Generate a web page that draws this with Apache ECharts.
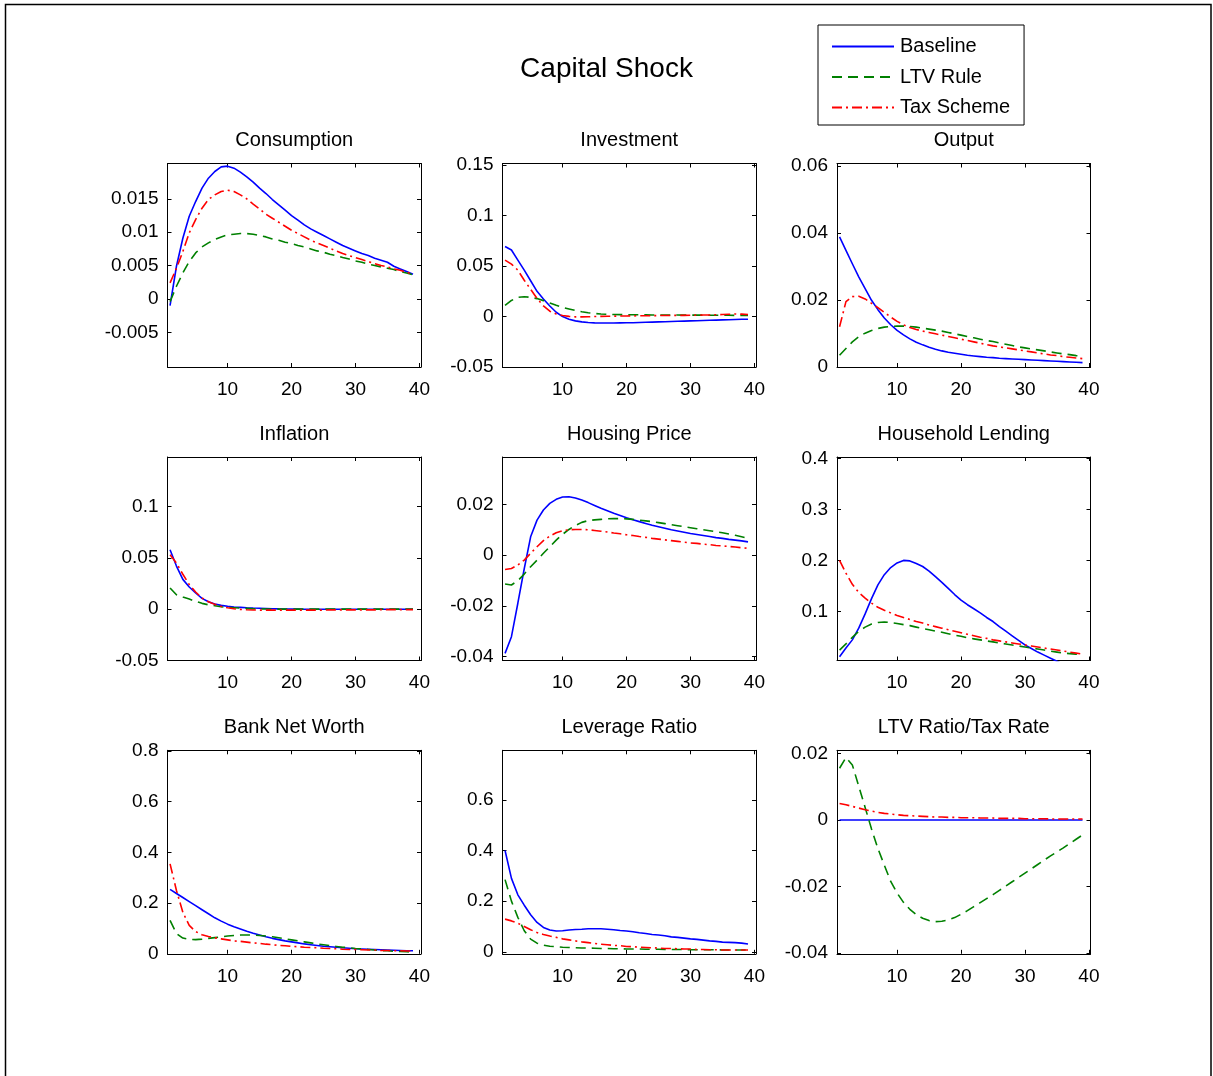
<!DOCTYPE html>
<html>
<head>
<meta charset="utf-8">
<title>Capital Shock</title>
<script src="https://cdn.jsdelivr.net/npm/echarts@6/dist/echarts.min.js"></script>
<style>
  html, body { margin: 0; padding: 0; background: #ffffff; }
  #chart { width: 1213px; height: 1076px; }
</style>
</head>
<body>
<div id="chart"></div>
<script>
// Impulse responses to a capital shock, periods 1..39
const periods = [1, 2, 3, 4, 5, 6, 7, 8, 9, 10, 11, 12, 13, 14, 15, 16, 17, 18, 19, 20,
  21, 22, 23, 24, 25, 26, 27, 28, 29, 30, 31, 32, 33, 34, 35, 36, 37, 38, 39];
const xTickLabels = [10, 20, 30, 40];
const scenarioNames = ['Baseline', 'LTV Rule', 'Tax Scheme'];
const panelTitles = ['Consumption', 'Investment', 'Output', 'Inflation', 'Housing Price',
  'Household Lending', 'Bank Net Worth', 'Leverage Ratio', 'LTV Ratio/Tax Rate'];

const consumptionBaseline = [-0.0010, 0.0049, 0.0091, 0.0124, 0.0146, 0.0166, 0.0181, 0.0191, 0.0198, 0.0199,
  0.0196, 0.0190, 0.0183, 0.0175, 0.0166, 0.0158, 0.0149, 0.0141, 0.0133, 0.0125,
  0.0118, 0.0111, 0.0105, 0.0100, 0.0095, 0.0090, 0.0085, 0.0080, 0.0076, 0.0072,
  0.0068, 0.0065, 0.0061, 0.0058, 0.0055, 0.0049, 0.0045, 0.0041, 0.0037];
const consumptionLtv = [-0.0004, 0.0019, 0.0039, 0.0056, 0.0069, 0.0078, 0.0084, 0.0089, 0.0093, 0.0096,
  0.0097, 0.0098, 0.0098, 0.0097, 0.0095, 0.0093, 0.0090, 0.0088, 0.0085, 0.0083,
  0.0080, 0.0078, 0.0075, 0.0072, 0.0070, 0.0067, 0.0065, 0.0062, 0.0060, 0.0057,
  0.0055, 0.0052, 0.0050, 0.0048, 0.0046, 0.0044, 0.0041, 0.0039, 0.0036];
const consumptionTax = [0.0024, 0.0046, 0.0071, 0.0099, 0.0119, 0.0136, 0.0149, 0.0156, 0.0161, 0.0163,
  0.0161, 0.0156, 0.0150, 0.0142, 0.0135, 0.0127, 0.0121, 0.0115, 0.0109, 0.0103,
  0.0098, 0.0093, 0.0088, 0.0084, 0.0080, 0.0076, 0.0072, 0.0068, 0.0065, 0.0062,
  0.0059, 0.0056, 0.0053, 0.0050, 0.0048, 0.0045, 0.0043, 0.0040, 0.0037];

const investmentBaseline = [0.0695, 0.0660, 0.0560, 0.0460, 0.0355, 0.0250, 0.0174, 0.0105, 0.0043, 0.0000,
  -0.0026, -0.0043, -0.0053, -0.0059, -0.0063, -0.0064, -0.0064, -0.0064, -0.0063, -0.0062,
  -0.0061, -0.0059, -0.0057, -0.0055, -0.0053, -0.0051, -0.0049, -0.0047, -0.0045, -0.0043,
  -0.0041, -0.0039, -0.0037, -0.0035, -0.0033, -0.0031, -0.0029, -0.0027, -0.0026];
const investmentLtv = [0.0110, 0.0160, 0.0190, 0.0197, 0.0190, 0.0178, 0.0158, 0.0135, 0.0112, 0.0090,
  0.0075, 0.0060, 0.0048, 0.0038, 0.0030, 0.0025, 0.0022, 0.0020, 0.0019, 0.0018,
  0.0018, 0.0017, 0.0017, 0.0016, 0.0016, 0.0015, 0.0015, 0.0015, 0.0014, 0.0014,
  0.0014, 0.0014, 0.0013, 0.0013, 0.0013, 0.0013, 0.0012, 0.0012, 0.0012];
const investmentTax = [0.0560, 0.0520, 0.0460, 0.0360, 0.0270, 0.0180, 0.0105, 0.0053, 0.0025, 0.0010,
  0.0002, -0.0003, -0.0003, -0.0002, 0.0000, 0.0002, 0.0003, 0.0004, 0.0005, 0.0006,
  0.0007, 0.0008, 0.0008, 0.0009, 0.0010, 0.0010, 0.0011, 0.0012, 0.0012, 0.0013,
  0.0014, 0.0015, 0.0016, 0.0018, 0.0020, 0.0023, 0.0025, 0.0024, 0.0021];

const outputBaseline = [0.0388, 0.0348, 0.0308, 0.0269, 0.0234, 0.0199, 0.0171, 0.0146, 0.0126, 0.0109,
  0.0096, 0.0084, 0.0074, 0.0066, 0.0059, 0.0053, 0.0048, 0.0044, 0.0041, 0.0038,
  0.0035, 0.0033, 0.0031, 0.0029, 0.0028, 0.0026, 0.0025, 0.0024, 0.0023, 0.0022,
  0.0021, 0.0020, 0.0019, 0.0018, 0.0017, 0.0016, 0.0015, 0.0014, 0.0013];
const outputLtv = [0.0035, 0.0055, 0.0075, 0.0090, 0.0101, 0.0109, 0.0115, 0.0119, 0.0121, 0.0122,
  0.0122, 0.0121, 0.0119, 0.0116, 0.0113, 0.0110, 0.0107, 0.0103, 0.0099, 0.0095,
  0.0091, 0.0087, 0.0083, 0.0079, 0.0076, 0.0072, 0.0068, 0.0064, 0.0060, 0.0057,
  0.0054, 0.0051, 0.0048, 0.0045, 0.0042, 0.0039, 0.0037, 0.0034, 0.0032];
const outputTax = [0.0120, 0.0195, 0.0210, 0.0211, 0.0203, 0.0190, 0.0177, 0.0163, 0.0149, 0.0136,
  0.0126, 0.0118, 0.0112, 0.0107, 0.0103, 0.0099, 0.0095, 0.0091, 0.0087, 0.0083,
  0.0079, 0.0075, 0.0071, 0.0067, 0.0063, 0.0060, 0.0057, 0.0054, 0.0051, 0.0048,
  0.0045, 0.0042, 0.0039, 0.0036, 0.0034, 0.0031, 0.0029, 0.0027, 0.0025];

const inflationBaseline = [0.0580, 0.0420, 0.0290, 0.0216, 0.0157, 0.0105, 0.0072, 0.0050, 0.0036, 0.0027,
  0.0021, 0.0017, 0.0013, 0.0010, 0.0008, 0.0006, 0.0004, 0.0002, 0.0001, 0.0000,
  0.0000, -0.0001, -0.0002, -0.0002, -0.0002, -0.0002, -0.0002, -0.0002, -0.0002, -0.0002,
  -0.0002, -0.0002, -0.0002, -0.0002, -0.0002, -0.0002, -0.0002, -0.0002, -0.0002];
const inflationLtv = [0.0206, 0.0140, 0.0118, 0.0098, 0.0075, 0.0056, 0.0042, 0.0033, 0.0023, 0.0016,
  0.0013, 0.0010, 0.0007, 0.0004, 0.0002, 0.0001, 0.0000, 0.0000, 0.0000, 0.0000,
  0.0000, 0.0000, 0.0000, 0.0000, 0.0000, 0.0000, 0.0000, 0.0000, 0.0000, 0.0000,
  0.0000, 0.0000, 0.0000, 0.0000, 0.0000, 0.0000, 0.0000, 0.0000, 0.0000];
const inflationTax = [0.0530, 0.0450, 0.0340, 0.0240, 0.0167, 0.0108, 0.0072, 0.0046, 0.0026, 0.0013,
  0.0003, -0.0003, -0.0007, -0.0009, -0.0010, -0.0010, -0.0010, -0.0010, -0.0010, -0.0010,
  -0.0010, -0.0010, -0.0010, -0.0010, -0.0010, -0.0008, -0.0008, -0.0008, -0.0008, -0.0008,
  -0.0008, -0.0008, -0.0008, -0.0005, -0.0005, -0.0005, -0.0005, -0.0005, -0.0005];

const housingBaseline = [-0.0388, -0.0322, -0.0190, -0.0054, 0.0072, 0.0138, 0.0178, 0.0204, 0.0220, 0.0229,
  0.0230, 0.0225, 0.0217, 0.0207, 0.0196, 0.0185, 0.0175, 0.0165, 0.0156, 0.0147,
  0.0139, 0.0132, 0.0125, 0.0118, 0.0112, 0.0106, 0.0100, 0.0095, 0.0090, 0.0085,
  0.0081, 0.0077, 0.0073, 0.0069, 0.0066, 0.0062, 0.0059, 0.0056, 0.0052];
const housingLtv = [-0.0114, -0.0118, -0.0101, -0.0075, -0.0046, -0.0020, 0.0007, 0.0033, 0.0059, 0.0082,
  0.0101, 0.0117, 0.0129, 0.0136, 0.0139, 0.0141, 0.0143, 0.0144, 0.0144, 0.0143,
  0.0141, 0.0138, 0.0135, 0.0132, 0.0128, 0.0124, 0.0120, 0.0116, 0.0112, 0.0108,
  0.0104, 0.0100, 0.0096, 0.0092, 0.0088, 0.0083, 0.0078, 0.0072, 0.0066];
const housingTax = [-0.0057, -0.0053, -0.0039, -0.0020, 0.0007, 0.0033, 0.0057, 0.0075, 0.0088, 0.0096,
  0.0100, 0.0101, 0.0101, 0.0100, 0.0097, 0.0094, 0.0091, 0.0087, 0.0084, 0.0080,
  0.0077, 0.0073, 0.0070, 0.0066, 0.0063, 0.0060, 0.0057, 0.0054, 0.0051, 0.0048,
  0.0046, 0.0043, 0.0041, 0.0038, 0.0036, 0.0034, 0.0032, 0.0029, 0.0027];

const lendingBaseline = [0.011, 0.028, 0.044, 0.067, 0.095, 0.125, 0.152, 0.172, 0.186, 0.195,
  0.200, 0.199, 0.194, 0.188, 0.179, 0.168, 0.157, 0.145, 0.133, 0.122,
  0.113, 0.105, 0.097, 0.088, 0.080, 0.070, 0.061, 0.052, 0.043, 0.034,
  0.027, 0.020, 0.014, 0.008, 0.002, -0.004, -0.010, -0.016, -0.022];
const lendingLtv = [0.024, 0.036, 0.049, 0.061, 0.069, 0.075, 0.078, 0.079, 0.078, 0.076,
  0.074, 0.072, 0.069, 0.066, 0.064, 0.061, 0.059, 0.056, 0.053, 0.051,
  0.048, 0.046, 0.044, 0.042, 0.040, 0.038, 0.036, 0.034, 0.032, 0.030,
  0.028, 0.026, 0.024, 0.022, 0.020, 0.018, 0.017, 0.016, 0.0145];
const lendingTax = [0.200, 0.175, 0.153, 0.137, 0.126, 0.116, 0.108, 0.102, 0.097, 0.092,
  0.088, 0.084, 0.080, 0.077, 0.073, 0.070, 0.067, 0.064, 0.061, 0.058,
  0.055, 0.052, 0.049, 0.047, 0.044, 0.042, 0.040, 0.038, 0.036, 0.034,
  0.032, 0.030, 0.028, 0.026, 0.024, 0.022, 0.020, 0.018, 0.016];

const netWorthBaseline = [0.254, 0.238, 0.222, 0.206, 0.190, 0.174, 0.158, 0.142, 0.129, 0.117,
  0.107, 0.098, 0.089, 0.081, 0.074, 0.067, 0.061, 0.056, 0.051, 0.047,
  0.043, 0.039, 0.036, 0.033, 0.030, 0.028, 0.026, 0.024, 0.022, 0.020,
  0.019, 0.018, 0.017, 0.016, 0.015, 0.014, 0.013, 0.012, 0.012];
const netWorthLtv = [0.132, 0.080, 0.062, 0.057, 0.056, 0.058, 0.061, 0.064, 0.067, 0.070,
  0.072, 0.074, 0.074, 0.074, 0.072, 0.070, 0.067, 0.063, 0.059, 0.055,
  0.051, 0.047, 0.043, 0.039, 0.036, 0.032, 0.029, 0.026, 0.024, 0.021,
  0.019, 0.017, 0.015, 0.013, 0.012, 0.010, 0.009, 0.008, 0.006];
const netWorthTax = [0.355, 0.250, 0.164, 0.112, 0.088, 0.075, 0.068, 0.063, 0.059, 0.055,
  0.051, 0.049, 0.046, 0.043, 0.041, 0.038, 0.036, 0.033, 0.032, 0.029,
  0.028, 0.026, 0.025, 0.024, 0.022, 0.021, 0.020, 0.018, 0.017, 0.017,
  0.016, 0.015, 0.015, 0.013, 0.013, 0.012, 0.012, 0.011, 0.011];

const leverageBaseline = [0.400, 0.290, 0.225, 0.184, 0.146, 0.116, 0.096, 0.086, 0.082, 0.083,
  0.086, 0.088, 0.089, 0.091, 0.091, 0.091, 0.089, 0.087, 0.084, 0.082,
  0.079, 0.075, 0.072, 0.068, 0.066, 0.063, 0.059, 0.057, 0.054, 0.051,
  0.049, 0.046, 0.043, 0.041, 0.038, 0.037, 0.036, 0.034, 0.031];
const leverageLtv = [0.285, 0.200, 0.136, 0.083, 0.050, 0.034, 0.026, 0.022, 0.020, 0.018,
  0.017, 0.016, 0.015, 0.0145, 0.014, 0.013, 0.013, 0.012, 0.012, 0.011,
  0.011, 0.011, 0.010, 0.010, 0.010, 0.009, 0.009, 0.009, 0.009, 0.008,
  0.008, 0.008, 0.008, 0.008, 0.007, 0.007, 0.007, 0.007, 0.007];
const leverageTax = [0.129, 0.122, 0.113, 0.100, 0.087, 0.076, 0.068, 0.062, 0.057, 0.051,
  0.047, 0.043, 0.039, 0.036, 0.033, 0.030, 0.028, 0.025, 0.024, 0.021,
  0.020, 0.018, 0.017, 0.016, 0.0145, 0.013, 0.013, 0.012, 0.011, 0.011,
  0.009, 0.009, 0.008, 0.008, 0.007, 0.007, 0.007, 0.007, 0.007];

const policyBaseline = [0, 0, 0, 0, 0, 0, 0, 0, 0, 0,
  0, 0, 0, 0, 0, 0, 0, 0, 0, 0,
  0, 0, 0, 0, 0, 0, 0, 0, 0, 0,
  0, 0, 0, 0, 0, 0, 0, 0, 0];
const policyLtv = [0.0156, 0.0188, 0.0166, 0.0102, 0.0038, -0.0027, -0.0086, -0.0136, -0.0185, -0.0220,
  -0.0248, -0.0269, -0.0285, -0.0296, -0.0303, -0.0306, -0.0305, -0.0301, -0.0294, -0.0284,
  -0.0273, -0.0261, -0.0249, -0.0237, -0.0225, -0.0212, -0.0199, -0.0186, -0.0173, -0.0160,
  -0.0147, -0.0134, -0.0121, -0.0108, -0.0096, -0.0084, -0.0071, -0.0058, -0.0045];
const policyTax = [0.0050, 0.0046, 0.0041, 0.0036, 0.0031, 0.0027, 0.0023, 0.0020, 0.0018, 0.0016,
  0.0014, 0.0013, 0.0012, 0.0011, 0.0010, 0.0009, 0.0009, 0.0008, 0.0008, 0.0007,
  0.0007, 0.0007, 0.0006, 0.0006, 0.0006, 0.0005, 0.0005, 0.0005, 0.0005, 0.0004,
  0.0004, 0.0004, 0.0004, 0.0003, 0.0003, 0.0003, 0.0003, 0.0003, 0.0003];

// y-axis tick labels and limits, one entry per panel
const yTickLabels = [
  [-0.005, 0, 0.005, 0.01, 0.015],
  [-0.05, 0, 0.05, 0.1, 0.15],
  [0, 0.02, 0.04, 0.06],
  [-0.05, 0, 0.05, 0.1],
  [-0.04, -0.02, 0, 0.02],
  [0.1, 0.2, 0.3, 0.4],
  [0, 0.2, 0.4, 0.6, 0.8],
  [0, 0.2, 0.4, 0.6],
  [-0.04, -0.02, 0, 0.02]
];
const yLimits = [
  [-0.0102, 0.0203],
  [-0.05, 0.1517],
  [0, 0.0607],
  [-0.0502, 0.1485],
  [-0.0416, 0.0387],
  [0.0035, 0.403],
  [0, 0.803],
  [-0.008, 0.7957],
  [-0.0403, 0.021]
];

const panelSeries = [
  [consumptionBaseline, consumptionLtv, consumptionTax],
  [investmentBaseline, investmentLtv, investmentTax],
  [outputBaseline, outputLtv, outputTax],
  [inflationBaseline, inflationLtv, inflationTax],
  [housingBaseline, housingLtv, housingTax],
  [lendingBaseline, lendingLtv, lendingTax],
  [netWorthBaseline, netWorthLtv, netWorthTax],
  [leverageBaseline, leverageLtv, leverageTax],
  [policyBaseline, policyLtv, policyTax]
];

// ---- layout and styling ----
const FONT = '"Liberation Sans", Arial, Helvetica, sans-serif';
const colLeft = [167.5, 502.5, 837];
const rowTop = [163.5, 457, 750.3];
const plotW = 253.5;
const plotH = 203.5;
const xRange = [0.6, 40.25];
const lineStyles = [
  { color: '#0000ff', type: 'solid' },
  { color: '#008000', type: [10, 6] },
  { color: '#ff0000', type: [10, 4, 2, 4] }
];

const axisLine = { show: true, onZero: false, lineStyle: { color: '#000000', width: 1 } };
const tickStyle = { show: true, inside: true, length: 4, lineStyle: { color: '#000000', width: 1 } };

const grids = [], xAxes = [], yAxes = [], series = [];

panelTitles.forEach((title, i) => {
  const col = i % 3, row = Math.floor(i / 3);
  grids.push({ left: colLeft[col], top: rowTop[row], width: plotW, height: plotH, show: false, containLabel: false });

  // bottom x axis with labels
  xAxes.push({
    type: 'value', gridIndex: i, position: 'bottom', min: xRange[0], max: xRange[1],
    axisLine: axisLine,
    axisTick: Object.assign({ customValues: xTickLabels }, tickStyle),
    axisLabel: { customValues: xTickLabels, margin: 13, fontSize: 19, color: '#000000', fontFamily: FONT },
    splitLine: { show: false }
  });
  // top x axis: box edge, inner ticks and the panel title
  xAxes.push({
    type: 'value', gridIndex: i, position: 'top', min: xRange[0], max: xRange[1],
    name: title, nameLocation: 'middle', nameGap: 13,
    nameTextStyle: { fontSize: 20, color: '#000000', fontFamily: FONT },
    axisLine: axisLine,
    axisTick: Object.assign({ customValues: xTickLabels }, tickStyle),
    axisLabel: { show: false },
    splitLine: { show: false }
  });
  // left y axis with labels
  yAxes.push({
    type: 'value', gridIndex: i, position: 'left', min: yLimits[i][0], max: yLimits[i][1],
    axisLine: axisLine,
    axisTick: Object.assign({ customValues: yTickLabels[i] }, tickStyle),
    axisLabel: {
      customValues: yTickLabels[i], margin: 9, fontSize: 19, color: '#000000', fontFamily: FONT,
      formatter: v => String(v)
    },
    splitLine: { show: false }
  });
  // right y axis: box edge and inner ticks
  yAxes.push({
    type: 'value', gridIndex: i, position: 'right', min: yLimits[i][0], max: yLimits[i][1],
    axisLine: axisLine,
    axisTick: Object.assign({ customValues: yTickLabels[i] }, tickStyle),
    axisLabel: { show: false },
    splitLine: { show: false }
  });

  panelSeries[i].forEach((values, k) => {
    series.push({
      name: scenarioNames[k],
      type: 'line',
      xAxisIndex: 2 * i,
      yAxisIndex: 2 * i,
      data: periods.map((t, j) => [t, values[j]]),
      symbol: 'none',
      showSymbol: false,
      clip: true,
      silent: true,
      lineStyle: { color: lineStyles[k].color, type: lineStyles[k].type, width: 1.6 },
      itemStyle: { color: lineStyles[k].color },
      z: 2 + k
    });
  });
});

const chart = echarts.init(document.getElementById('chart'), null, { renderer: 'canvas' });
chart.setOption({
  backgroundColor: '#ffffff',
  animation: false,
  textStyle: { fontFamily: FONT, color: '#000000' },
  title: {
    text: 'Capital Shock', left: 'center', top: 55, padding: 0,
    textStyle: { fontSize: 28, fontWeight: 'normal', color: '#000000', fontFamily: FONT }
  },
  legend: {
    data: scenarioNames,
    orient: 'vertical',
    left: 818, top: 25,
    padding: [11.5, 14, 7.5, 13],
    itemWidth: 62, itemHeight: 14, itemGap: 10.5,
    borderColor: '#000000', borderWidth: 1, borderRadius: 0,
    backgroundColor: '#ffffff',
    selectedMode: false,
    itemStyle: { opacity: 0, borderWidth: 0 },
    textStyle: { fontSize: 20, color: '#000000', fontFamily: FONT, lineHeight: 20, padding: [0, 0, 0, 1] }
  },
  graphic: [{
    type: 'rect', silent: true, z: -1,
    shape: { x: 5.5, y: 4.5, width: 1205.5, height: 1200 },
    style: { fill: null, stroke: '#000000', lineWidth: 1.5 }
  }],
  grid: grids,
  xAxis: xAxes,
  yAxis: yAxes,
  series: series
});
</script>
</body>
</html>
